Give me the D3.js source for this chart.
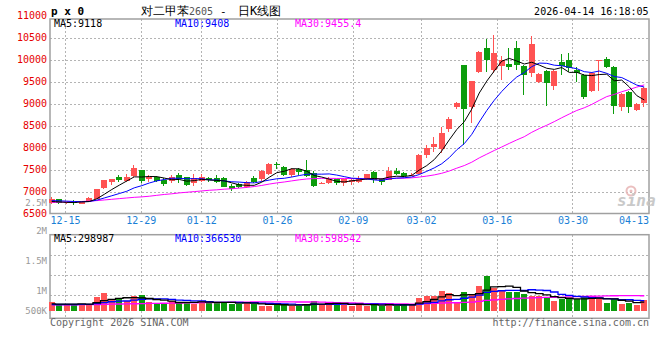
<!DOCTYPE html>
<html>
<head>
<meta charset="utf-8">
<script src="https://cdn.jsdelivr.net/npm/d3@7/dist/d3.min.js"></script>
<style>
  html, body { margin: 0; padding: 0; background: #fff; }
  svg { display: block; }
  text { font-family: "DejaVu Sans Mono", monospace; }
</style>
</head>
<body>
<script>
// ---------------- data ----------------
const dates = ["12-11","12-12","12-15","12-16","12-17","12-18","12-19","12-22","12-23","12-24",
  "12-25","12-26","12-29","12-30","12-31","01-05","01-06","01-07","01-08","01-09",
  "01-12","01-13","01-14","01-15","01-16","01-19","01-20","01-21","01-22","01-23",
  "01-26","01-27","01-28","01-29","01-30","02-02","02-03","02-04","02-05","02-06",
  "02-09","02-10","02-11","02-12","02-13","02-24","02-25","02-26","02-27","03-02",
  "03-03","03-04","03-05","03-06","03-09","03-10","03-11","03-12","03-13","03-16",
  "03-17","03-18","03-19","03-20","03-23","03-24","03-25","03-26","03-27","03-30",
  "03-31","04-01","04-02","04-03","04-07","04-08","04-09","04-10","04-13","04-14"];

const open = [6760,6849,6765,6796,6743,6811,6857,7099,7251,7349,
  7273,7379,7516,7304,7349,7290,7273,7402,7349,7213,
  7273,7334,7334,7334,7152,7190,7137,7334,7304,7425,
  7660,7592,7402,7531,7516,7440,7198,7228,7304,7213,
  7243,7243,7304,7475,7320,7288,7501,7455,7380,7430,
  7857,8046,7985,8440,8940,9902,8955,9750,10281,9788,
  9880,9925,10281,9880,9728,9523,9773,9432,9978,10016,
  9789,9675,9319,9990,10031,9849,8940,9296,8879,9046];

const high = [6910,6860,6800,6834,6800,6900,7090,7295,7310,7402,
  7417,7630,7516,7402,7379,7330,7402,7455,7360,7425,
  7425,7364,7394,7350,7190,7210,7266,7379,7516,7682,
  7705,7600,7554,7554,7743,7500,7240,7364,7320,7310,
  7326,7380,7430,7485,7330,7592,7554,7470,7440,7880,
  8084,8270,8500,8713,9069,9910,9550,10228,10486,10584,
  10100,10281,10455,9900,10561,9720,9790,9790,10160,10183,
  9864,9700,9740,10016,10092,9870,9273,9310,9030,9410];

const low = [6750,6735,6745,6720,6735,6800,6850,7090,7175,7251,
  7236,7364,7228,7243,7243,7150,7228,7213,7160,7150,
  7236,7251,7213,7120,7046,7100,7099,7213,7273,7402,
  7531,7380,7364,7402,7364,7137,7190,7198,7175,7152,
  7175,7213,7290,7210,7170,7280,7402,7360,7370,7420,
  7781,7930,7910,8387,8895,8084,8576,9713,9750,9728,
  9561,9800,9788,9230,9637,9500,8970,9334,9680,9750,
  9523,9140,9290,9319,9826,8789,8864,8819,8864,8940];

const close = [6850,6773,6780,6758,6796,6887,7084,7289,7304,7289,
  7364,7554,7273,7364,7273,7200,7364,7304,7175,7326,
  7349,7289,7251,7137,7092,7122,7236,7251,7493,7652,
  7640,7402,7539,7478,7379,7152,7228,7304,7228,7304,
  7288,7326,7417,7280,7250,7501,7425,7380,7410,7857,
  8008,8107,8364,8667,9031,8895,9538,10198,10016,10182,
  10016,9850,9902,9675,10380,9698,9485,9773,9887,9826,
  9713,9167,9713,10008,9864,8970,9243,8940,9016,9372];

const volume = [309000,216000,216000,156000,216000,216000,556000,715000,449000,449000,
  356000,603000,636000,309000,216000,216000,356000,325000,325000,216000,
  356000,277000,277000,309000,216000,216000,309000,216000,123000,123000,
  216000,216000,123000,123000,216000,356000,216000,216000,216000,216000,
  123000,246000,123000,216000,123000,216000,123000,202000,202000,510000,
  603000,603000,836000,715000,249000,789000,682000,1069000,1535000,976000,
  869000,789000,789000,682000,603000,603000,528000,356000,463000,463000,
  463000,528000,463000,528000,277000,463000,216000,249000,170000,403000];

// moving-average values at the start of the window (history before 12-11)
const ma5Lead  = [6800,6790,6780,6775];
const ma10Lead = [6820,6815,6808,6800,6795,6800,6830,6880,6930];
const ma30Lead = [6780,6785,6790,6795,6800,6810,6820,6835,6850,6865,6880,6895,6905,6920,6940,
  6960,6975,6995,7010,7025,7040,7055,7065,7080,7090,7105,7120,7140,7165];
const vma5Lead  = [216000,210000,205000,210000];
const vma10Lead = [190000,190000,190000,190000,195000,200000,230000,280000,320000];
const vma30Lead = [180000,180000,180000,180000,185000,185000,190000,200000,210000,215000,
  220000,225000,235000,240000,245000,250000,255000,260000,265000,270000,
  275000,280000,285000,290000,295000,300000,305000,308000,312000];

const priceTicks = [6500,7000,7500,8000,8500,9000,9500,10000,10500,11000];
const volTickValues = [2500000,2000000,1500000,1000000,500000];
const volTickLabels = ["2.5M","2M","1.5M","1M","500K"];
const dateTicks = ["12-15","12-29","01-12","01-26","02-09","03-02","03-16","03-30","04-13"];
const priceLegend = ["MA5:9118","MA10:9408","MA30:9455.4"];
const volLegend = ["MA5:298987","MA10:366530","MA30:598542"];

// ---------------- layout ----------------
const P = {left: 50, right: 649, top: 19, bottom: 213.5};
const V = {top: 234.7, bottom: 318.3, base: 310.7};
const UP = "#ff5353", DOWN = "#0c9c0c";
const MA_COLORS = ["#000000", "#0000ff", "#ff00ff"];

const svg = d3.select("body").append("svg").attr("width", 660).attr("height", 360);

const x = d3.scaleBand().domain(dates).range([48, 648]);
const cx = d => x(d) + x.bandwidth() / 2;
const xg = d3.scalePoint().domain(dates).range([50.3, 648.7]);
const yP = d3.scaleLinear().domain([6500, 11000]).range([214.7, 16.7]);
const yV = d3.scaleLinear().domain([0, 1000000]).range([308.6, 287.14]);
const yVLabel = d3.scaleLinear().domain([500000, 1000000, 2000000, 2500000]).range([310.7, 290.7, 230.7, 202.5]);

function movingAvg(values, n, lead) {
  return values.map((v, i) => i < n - 1 ? lead[i] : d3.mean(values.slice(i - n + 1, i + 1)));
}

const data = dates.map((d, i) => ({d, o: open[i], h: high[i], l: low[i], c: close[i], v: volume[i]}));

// ---------------- grid ----------------
const grid = svg.append("g").attr("stroke", "#b4b4b4").attr("stroke-width", 1)
  .attr("stroke-dasharray", "2,2").attr("shape-rendering", "crispEdges");
priceTicks.filter(t => t > 6500 && t < 11000).forEach(t => {
  grid.append("line").attr("x1", P.left).attr("x2", P.right).attr("y1", yP(t)).attr("y2", yP(t));
});
[V.top + 21, V.top + 40.8, V.top + 60.6].forEach(y => {
  grid.append("line").attr("x1", P.left).attr("x2", P.right).attr("y1", y).attr("y2", y);
});
dateTicks.forEach(t => {
  const gx = xg(t);
  if (gx > P.right - 10) return;
  grid.append("line").attr("x1", gx).attr("x2", gx).attr("y1", P.top).attr("y2", P.bottom);
  grid.append("line").attr("x1", gx).attr("x2", gx).attr("y1", V.top).attr("y2", V.bottom);
});

// frames
svg.append("rect").attr("x", P.left).attr("y", P.top).attr("width", P.right - P.left)
  .attr("height", P.bottom - P.top).attr("fill", "none").attr("stroke", "#a0a0a0").attr("stroke-width", 1.5);
svg.append("rect").attr("x", P.left).attr("y", V.top).attr("width", P.right - P.left)
  .attr("height", V.bottom - V.top).attr("fill", "none").attr("stroke", "#a0a0a0").attr("stroke-width", 1.5);

// sina watermark
const wm = svg.append("g").attr("opacity", 0.9);
wm.append("circle").attr("cx", 631).attr("cy", 191).attr("r", 4.5).attr("fill", "none")
  .attr("stroke", "#e9b9b9").attr("stroke-width", 2);
wm.append("circle").attr("cx", 631).attr("cy", 191).attr("r", 1.5).attr("fill", "#e9b9b9");
wm.append("text").attr("x", 617).attr("y", 206).attr("font-family", "DejaVu Sans")
  .attr("font-size", 16).attr("font-weight", "bold").attr("font-style", "italic")
  .attr("fill", "#c4c4c4").text("sina");

// ---------------- candles ----------------
const up = d => d.c >= d.o;
const cg = svg.append("g").attr("shape-rendering", "crispEdges");
cg.selectAll("line.wick").data(data).join("line")
  .attr("x1", d => Math.round(cx(d.d)) - 0.5).attr("x2", d => Math.round(cx(d.d)) - 0.5)
  .attr("y1", d => yP(d.h)).attr("y2", d => yP(d.l))
  .attr("stroke", d => up(d) ? UP : DOWN).attr("stroke-width", 1);
cg.selectAll("rect.body").data(data).join("rect")
  .attr("x", d => Math.round(cx(d.d)) - 3.5).attr("width", 6)
  .attr("y", d => yP(Math.max(d.o, d.c)))
  .attr("height", d => Math.max(1, Math.abs(yP(d.o) - yP(d.c))))
  .attr("fill", d => up(d) ? UP : DOWN);

// price MAs
const pMAs = [movingAvg(close, 5, ma5Lead), movingAvg(close, 10, ma10Lead), movingAvg(close, 30, ma30Lead)];
const pLine = d3.line().x((v, i) => cx(dates[i])).y(v => yP(v));
pMAs.slice().reverse().forEach((m, k) => {
  svg.append("path").attr("d", pLine(m)).attr("fill", "none")
    .attr("stroke", MA_COLORS[2 - k]).attr("stroke-width", 1);
});

// ---------------- volume ----------------
svg.append("g").attr("shape-rendering", "crispEdges").selectAll("rect").data(data).join("rect")
  .attr("x", d => Math.round(cx(d.d)) - 3.5).attr("width", 6)
  .attr("y", d => yV(d.v)).attr("height", d => V.base - yV(d.v))
  .attr("fill", d => up(d) ? UP : DOWN);

const vMAs = [movingAvg(volume, 5, vma5Lead), movingAvg(volume, 10, vma10Lead), movingAvg(volume, 30, vma30Lead)];
const vLine = d3.line().x((v, i) => cx(dates[i])).y(v => yV(v)).curve(d3.curveStep);
vMAs.slice().reverse().forEach((m, k) => {
  svg.append("path").attr("d", vLine(m)).attr("fill", "none")
    .attr("stroke", MA_COLORS[2 - k]).attr("stroke-width", 1.3);
});

// ---------------- text ----------------
// title row
svg.append("text").attr("x", 51).attr("y", 15).attr("font-size", 11).attr("font-weight", "bold")
  .attr("fill", "#000").text("p x 0");
const cjk = '"Noto Sans CJK SC", sans-serif';
svg.append("text").attr("x", 141).attr("y", 15).attr("font-family", cjk).attr("font-size", 12)
  .attr("fill", "#000").text("对二甲苯");
svg.append("text").attr("x", 189).attr("y", 15).attr("font-family", "DejaVu Sans").attr("font-size", 10)
  .attr("fill", "#555").text("2605");
svg.append("text").attr("x", 220).attr("y", 15).attr("font-family", "DejaVu Sans").attr("font-size", 11)
  .attr("fill", "#000").text("-");
svg.append("text").attr("x", 238).attr("y", 15).attr("font-family", cjk).attr("font-size", 12)
  .attr("fill", "#000").text("日K线图");
svg.append("text").attr("x", 648.5).attr("y", 15).attr("text-anchor", "end").attr("font-size", 10)
  .attr("fill", "#000").text("2026-04-14 16:18:05");

// legends
[54, 175, 295].forEach((lx, k) => {
  svg.append("text").attr("x", lx).attr("y", 27).attr("font-size", 10)
    .attr("fill", MA_COLORS[k]).text(priceLegend[k]);
  svg.append("text").attr("x", lx).attr("y", 241.5).attr("font-size", 10)
    .attr("fill", MA_COLORS[k]).text(volLegend[k]);
});

// price axis labels
svg.append("g").selectAll("text").data(priceTicks).join("text")
  .attr("x", 47).attr("y", d => yP(d) - 1.5).attr("dy", "0.36em").attr("text-anchor", "end")
  .attr("font-size", 10).attr("fill", "#e60000").text(d => d);

// volume axis labels
svg.append("g").selectAll("text").data(volTickValues).join("text")
  .attr("x", 47).attr("y", d => yVLabel(d)).attr("dy", "0.36em").attr("text-anchor", "end")
  .attr("font-size", 9).attr("fill", "#999").text((d, i) => volTickLabels[i]);

// date labels
const dl = svg.append("g");
dateTicks.forEach(t => {
  const tx = dl.append("text").attr("y", 224).attr("font-size", 10).attr("fill", "#1a7fd6").text(t);
  const w = tx.node().getComputedTextLength();
  let left = xg(t) - w / 2;
  if (left < P.left) left = P.left;
  if (left + w > P.right) left = P.right - w;
  tx.attr("x", left);
});

// footer
svg.append("text").attr("x", 50).attr("y", 325.5).attr("font-size", 10).attr("fill", "#666")
  .text("Copyright 2026 SINA.COM");
svg.append("text").attr("x", 649).attr("y", 325.5).attr("text-anchor", "end").attr("font-size", 10)
  .attr("fill", "#666").text("http://finance.sina.com.cn");
</script>
</body>
</html>
